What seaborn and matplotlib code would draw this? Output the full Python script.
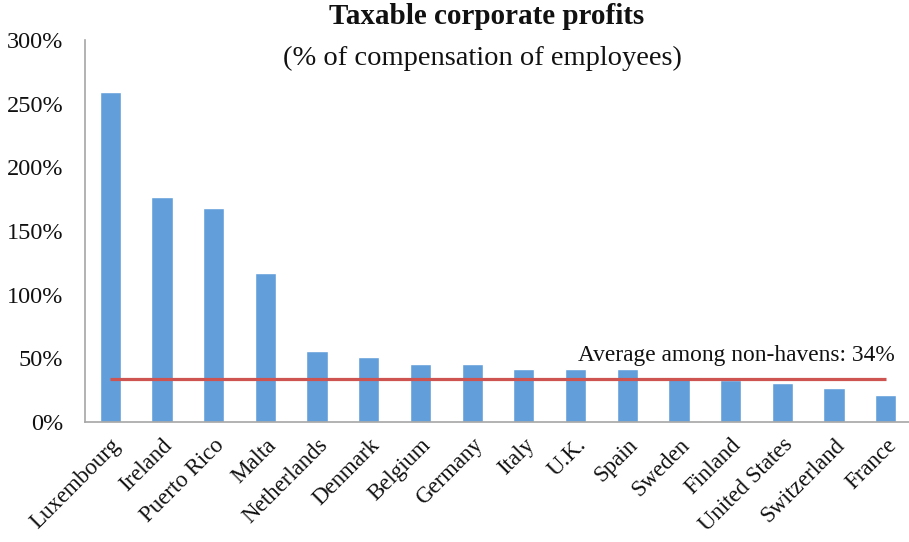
import matplotlib
matplotlib.use("Agg")
import matplotlib.pyplot as plt
import seaborn as sns
import pandas as pd
from matplotlib.ticker import FuncFormatter

countries = ["Luxembourg", "Ireland", "Puerto Rico", "Malta", "Netherlands", "Denmark",
             "Belgium", "Germany", "Italy", "U.K.", "Spain", "Sweden", "Finland",
             "United States", "Switzerland", "France"]
profits = [259, 177, 168, 117, 56, 51, 45.5, 45.5, 41.5, 41.5, 41.5, 35, 33, 31, 27, 21]
average_value = 34
average_label = "Average among non-havens: 34%"
title = "Taxable corporate profits"
subtitle = "(% of compensation of employees)"
yticks = [0, 50, 100, 150, 200, 250, 300]

sns.set_theme(style="white")
plt.rcParams['font.family'] = ['Liberation Serif', 'DejaVu Serif']

df = pd.DataFrame({"country": countries, "profit": profits})

fig = plt.figure(figsize=(9.09, 5.42), dpi=100)
ax = fig.add_axes([0.094, 0.2214, 0.906, 0.7048])

sns.barplot(data=df, x="country", y="profit", color="#629fda", width=0.41,
            saturation=1, ax=ax, order=countries)

ax.plot([0, len(countries) - 1], [average_value, average_value],
        color="#cd5450", lw=2.3, solid_capstyle="butt", zorder=5)

ax.set_xlim(-0.48, 15.45)
ax.set_ylim(0, 300)
ax.set_yticks(yticks)
ax.yaxis.set_major_formatter(FuncFormatter(lambda v, p: f"{int(v)}%"))
ax.set_xlabel("")
ax.set_ylabel("")

for s in ["top", "right"]:
    ax.spines[s].set_visible(False)
for s in ["left", "bottom"]:
    ax.spines[s].set_color("#a6a6a6")
    ax.spines[s].set_linewidth(1.2)

ax.tick_params(axis="y", labelsize=17.5, length=0, pad=16, colors="#111111")
ax.tick_params(axis="x", length=0, pad=9)
ax.set_xticks(range(len(countries)))
ax.set_xticklabels(countries, rotation=45, ha="right", rotation_mode="anchor",
                   fontsize=16.5, color="#111111")

ax.text(15.18, 44, average_label, ha="right", va="bottom", fontsize=16.8, color="#111111")

fig.text(0.535, 0.970, title, ha="center", va="center", fontsize=21, fontweight="bold", color="#111111")
fig.text(0.531, 0.892, subtitle, ha="center", va="center", fontsize=20.5, color="#111111")

fig.savefig("out.png", dpi=100)
